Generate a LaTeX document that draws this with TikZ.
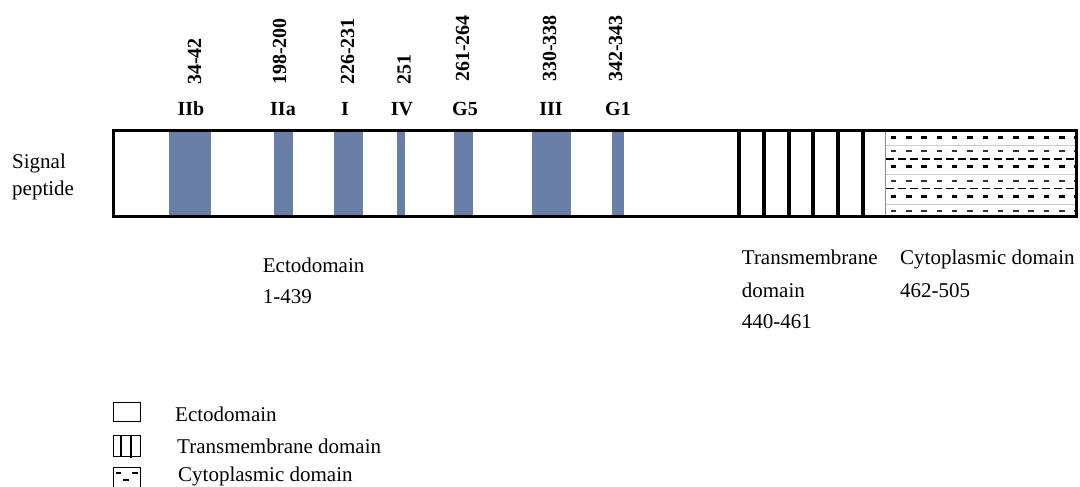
\documentclass[tikz,border=0pt]{standalone}
\usepackage{fontspec}
\setmainfont{Liberation Serif}
\definecolor{motifblue}{RGB}{104,126,166}
\begin{document}
\begin{tikzpicture}[x=1pt,y=-1pt,
  txt/.style={font=\fontsize{21}{25}\selectfont, inner sep=0, anchor=base west},
  numlbl/.style={font=\fontsize{20}{24}\selectfont\bfseries, rotate=90, anchor=west, inner sep=0},
  motiflbl/.style={font=\fontsize{20}{24}\selectfont\bfseries, anchor=base, inner sep=0},
  motif/.style={fill=motifblue, draw=none},
  tmline/.style={line width=4pt},
  dashrow/.style={line width=2.6pt, dash pattern=on 5.5pt off 9.8pt},
  thinrow/.style={line width=1.2pt, dash pattern=on 8pt off 4pt},
  grayrow/.style={line width=1pt, black!20},
  legbox/.style={line width=1.6pt}]
\useasboundingbox (0,0) rectangle (1080,487);

% motif bars
\fill[motif] (169,131) rectangle (210.7,216.5);
\fill[motif] (274,131) rectangle (292.7,216.5);
\fill[motif] (334,131) rectangle (362.7,216.5);
\fill[motif] (397,131) rectangle (404.7,216.5);
\fill[motif] (454,131) rectangle (472.7,216.5);
\fill[motif] (532,131) rectangle (570.7,216.5);
\fill[motif] (612,131) rectangle (623.7,216.5);

% cytoplasmic pattern
\begin{scope}
\clip (886,131.5) rectangle (1075,215);
\foreach \y in {145,174,204} \draw[grayrow] (886,\y) -- (1076,\y);
\foreach \y in {137.3,166.7,196.3} \draw[dashrow] (890.7,\y) -- (1076,\y);
\foreach \y in {151,181,211} \draw[dashrow, black!80] (890.7,\y) -- (1076,\y);
\foreach \y in {159,188.3} \draw[thinrow] (886,\y) -- (1076,\y);
\end{scope}

% transmembrane lines
\foreach \x in {738.7,763.7,789.2,813.3,838,862.7} \draw[tmline] (\x,130.5) -- (\x,216.5);
\draw[line width=1.5pt, black!45] (885.3,130.5) -- (885.3,216.5);

% main outline
\draw[line width=3pt] (113.5,130.5) rectangle (1076.5,216.5);

% residue numbers
\node[numlbl] (n1) at (194.5,85) {34-42};
\node[numlbl] (n2) at (279.5,85) {198-200};
\node[numlbl] (n3) at (347.5,85) {226-231};
\node[numlbl] (n4) at (404,85) {251};
\node[numlbl] (n5) at (462.5,82) {261-264};
\node[numlbl] (n6) at (549.5,82) {330-338};
\node[numlbl] (n7) at (615.5,82) {342-343};

% motif names
\node[motiflbl] (m1) at (191,115) {IIb};
\node[motiflbl] (m2) at (283,115) {IIa};
\node[motiflbl] (m3) at (345,115) {I};
\node[motiflbl] (m4) at (402,115) {IV};
\node[motiflbl] (m5) at (465,115) {G5};
\node[motiflbl] (m6) at (551,115) {III};
\node[motiflbl] (m7) at (618,115) {G1};

% side and domain labels
\node[txt] (sig1) at (12,168) {Signal};
\node[txt] (sig2) at (12,195) {peptide};
\node[txt] (ecto1) at (262.7,272.7) {Ectodomain};
\node[txt] (ecto2) at (262.7,303) {1-439};
\node[txt] (tm1) at (741.7,264.3) {Transmembrane};
\node[txt] (tm2) at (741.7,297.7) {domain};
\node[txt] (tm3) at (741.7,328) {440-461};
\node[txt] (cy1) at (900,264.3) {Cytoplasmic domain};
\node[txt] (cy2) at (900,297.7) {462-505};

% legend
\draw[legbox] (113.5,402.5) rectangle (140.5,421.5);
\draw[legbox] (113.5,435.5) rectangle (140.5,456.5);
\draw[line width=2.7pt] (121,435.5) -- (121,456.5);
\draw[line width=2.7pt] (131,435.5) -- (131,458);
\draw[legbox] (113.5,487) -- (113.5,467.5) -- (140.5,467.5) -- (140.5,487);
\draw[line width=1.2pt] (116,473) -- (121,473);
\draw[line width=1.2pt] (132,473) -- (138,473);
\draw[line width=2.4pt] (123,480) -- (128.5,480);
\node[txt] (leg1) at (175,421) {Ectodomain};
\node[txt] (leg2) at (177,453) {Transmembrane domain};
\node[txt] (leg3) at (178,481) {Cytoplasmic domain};
\end{tikzpicture}
\end{document}
